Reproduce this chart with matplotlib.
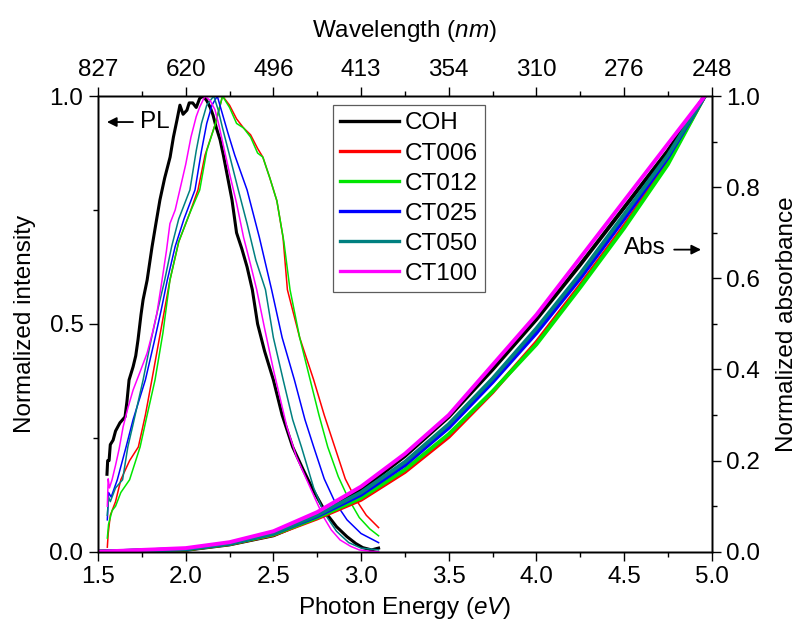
import matplotlib
matplotlib.use("Agg")
import matplotlib.pyplot as plt
from matplotlib.lines import Line2D
from matplotlib.ticker import MultipleLocator, FormatStrFormatter

plt.rcParams["font.family"] = ["Liberation Sans", "DejaVu Sans"]
plt.rcParams["mathtext.fontset"] = "custom"
plt.rcParams["mathtext.rm"] = "Liberation Sans"
plt.rcParams["mathtext.it"] = "Liberation Sans:italic"

FONT_SIZE = 17.5

SAMPLES = ["COH", "CT006", "CT012", "CT025", "CT050", "CT100"]
COLORS = {
    "COH": "#000000",
    "CT006": "#ff0000",
    "CT012": "#00e600",
    "CT025": "#0000ff",
    "CT050": "#008080",
    "CT100": "#ff00ff",
}

# photoluminescence, normalized (energy eV, intensity)
PL_E = {
    "COH": [1.551, 1.555, 1.563, 1.57, 1.586, 1.60, 1.625, 1.654, 1.665, 1.677, 1.70, 1.715,
            1.728, 1.745, 1.757, 1.78, 1.808, 1.83, 1.853, 1.88, 1.911, 1.93, 1.95, 1.967,
            1.985, 2.007, 2.02, 2.04, 2.06, 2.08, 2.10, 2.12, 2.14, 2.156, 2.175, 2.196,
            2.215, 2.235, 2.264, 2.29, 2.32, 2.35, 2.38, 2.41, 2.45, 2.50, 2.55, 2.61, 2.67,
            2.726, 2.80, 2.86, 2.92, 2.97, 3.01, 3.06, 3.10],
    "CT006": [1.553, 1.558, 1.57, 1.60, 1.63, 1.68, 1.73, 1.77, 1.807, 1.86, 1.91, 1.96,
              2.02, 2.07, 2.11, 2.17, 2.21, 2.25, 2.29, 2.33, 2.37, 2.41, 2.44, 2.48, 2.52,
              2.555, 2.58, 2.65, 2.73, 2.79, 2.85, 2.91, 2.97, 3.03, 3.10],
    "CT012": [1.553, 1.56, 1.58, 1.60, 1.63, 1.68, 1.74, 1.78, 1.825, 1.87, 1.91, 1.96,
              2.02, 2.08, 2.12, 2.17, 2.21, 2.25, 2.29, 2.33, 2.37, 2.41, 2.44, 2.48, 2.52,
              2.56, 2.595, 2.65, 2.71, 2.76, 2.81, 2.87, 2.93, 2.99, 3.05, 3.10],
    "CT025": [1.553, 1.56, 1.575, 1.61, 1.66, 1.70, 1.77, 1.82, 1.86, 1.895, 1.94, 1.99,
              2.053, 2.09, 2.12, 2.15, 2.18, 2.21, 2.24, 2.28, 2.35, 2.42, 2.49, 2.55, 2.62,
              2.68, 2.73, 2.79, 2.85, 2.92, 3.0, 3.10],
    "CT050": [1.553, 1.56, 1.57, 1.60, 1.64, 1.67, 1.70, 1.757, 1.80, 1.84, 1.88, 1.92,
              1.96, 2.0, 2.024, 2.06, 2.09, 2.12, 2.16, 2.185, 2.21, 2.25, 2.30, 2.35, 2.40,
              2.455, 2.50, 2.556, 2.61, 2.66, 2.73, 2.79, 2.86, 2.93, 3.0, 3.10],
    "CT100": [1.553, 1.558, 1.565, 1.58, 1.60, 1.62, 1.643, 1.67, 1.70, 1.74, 1.78, 1.81,
              1.836, 1.865, 1.89, 1.91, 1.94, 1.97, 2.0, 2.03, 2.06, 2.08, 2.11, 2.14, 2.167,
              2.19, 2.21, 2.25, 2.29, 2.33, 2.37, 2.405, 2.45, 2.50, 2.577, 2.63, 2.69, 2.74,
              2.785, 2.83, 2.88, 2.94, 2.99, 3.05, 3.10],
}
PL_I = {
    "COH": [0.17, 0.20, 0.20, 0.235, 0.245, 0.265, 0.283, 0.296, 0.33, 0.377, 0.406, 0.43,
            0.465, 0.52, 0.553, 0.596, 0.669, 0.72, 0.772, 0.82, 0.866, 0.91, 0.947, 0.98,
            0.96, 0.969, 0.985, 0.985, 0.975, 0.995, 1.0, 0.99, 0.975, 0.958, 0.93, 0.904,
            0.87, 0.83, 0.772, 0.70, 0.665, 0.625, 0.575, 0.50, 0.44, 0.377, 0.30, 0.23, 0.18,
            0.136, 0.085, 0.055, 0.033, 0.018, 0.009, 0.004, 0.008],
    "CT006": [0.01, 0.04, 0.08, 0.11, 0.158, 0.20, 0.23, 0.30, 0.377, 0.49, 0.596, 0.68,
              0.74, 0.794, 0.87, 0.94, 1.0, 0.98, 0.95, 0.93, 0.915, 0.885, 0.866, 0.82, 0.77,
              0.69, 0.575, 0.47, 0.377, 0.30, 0.23, 0.16, 0.115, 0.08, 0.053],
    "CT012": [0.03, 0.06, 0.09, 0.10, 0.13, 0.158, 0.23, 0.30, 0.377, 0.48, 0.596, 0.68,
              0.74, 0.794, 0.88, 0.94, 1.0, 0.975, 0.94, 0.93, 0.91, 0.875, 0.866, 0.82, 0.77,
              0.68, 0.575, 0.47, 0.377, 0.30, 0.23, 0.165, 0.115, 0.075, 0.05, 0.035],
    "CT025": [0.07, 0.13, 0.12, 0.158, 0.23, 0.29, 0.377, 0.46, 0.53, 0.596, 0.67, 0.73,
              0.794, 0.88, 0.94, 0.98, 1.0, 0.96, 0.92, 0.87, 0.794, 0.69, 0.575, 0.47, 0.377,
              0.29, 0.23, 0.16, 0.11, 0.07, 0.04, 0.02],
    "CT050": [0.08, 0.12, 0.11, 0.14, 0.158, 0.23, 0.28, 0.377, 0.46, 0.53, 0.596, 0.67,
              0.73, 0.77, 0.794, 0.88, 0.94, 0.98, 1.0, 0.97, 0.93, 0.87, 0.794, 0.72, 0.64,
              0.575, 0.47, 0.377, 0.29, 0.23, 0.14, 0.085, 0.045, 0.02, 0.008, 0.004],
    "CT100": [0.10, 0.16, 0.14, 0.158, 0.19, 0.225, 0.274, 0.315, 0.355, 0.395, 0.436, 0.48,
              0.524, 0.596, 0.66, 0.72, 0.75, 0.80, 0.85, 0.91, 0.955, 0.976, 1.0, 0.99, 0.97,
              0.935, 0.90, 0.83, 0.765, 0.69, 0.63, 0.575, 0.49, 0.40, 0.274, 0.21, 0.158,
              0.115, 0.077, 0.048, 0.026, 0.012, 0.004, 0.001, 0.0],
}

# absorbance, normalized
ABS_E = [1.5, 2.0, 2.25, 2.5, 2.75, 3.0, 3.25, 3.5, 3.75, 4.0, 4.25, 4.5, 4.75, 4.96]
ABS_A = {
    "COH": [0.0, 0.004, 0.016, 0.036, 0.076, 0.136, 0.21, 0.296, 0.40, 0.51, 0.63, 0.755, 0.88, 1.0],
    "CT006": [0.0, 0.005, 0.017, 0.037, 0.073, 0.114, 0.175, 0.252, 0.35, 0.46, 0.585, 0.715, 0.855, 1.0],
    "CT012": [0.0, 0.005, 0.017, 0.038, 0.075, 0.118, 0.18, 0.258, 0.352, 0.455, 0.58, 0.71, 0.85, 1.0],
    "CT025": [0.0, 0.006, 0.018, 0.04, 0.078, 0.125, 0.19, 0.272, 0.372, 0.48, 0.60, 0.73, 0.865, 1.0],
    "CT050": [0.0, 0.006, 0.018, 0.04, 0.08, 0.13, 0.197, 0.28, 0.38, 0.49, 0.61, 0.74, 0.87, 1.0],
    "CT100": [0.0, 0.008, 0.021, 0.045, 0.087, 0.143, 0.215, 0.30, 0.41, 0.52, 0.645, 0.77, 0.895, 1.0],
}

ENERGY_TICKS = [1.5, 2.0, 2.5, 3.0, 3.5, 4.0, 4.5, 5.0]
WAVELENGTH_LABELS = ["827", "620", "496", "413", "354", "310", "276", "248"]


def style_ticks(axis):
    axis.tick_params(which="major", direction="out", length=6.5, width=1.0,
                     labelsize=FONT_SIZE, pad=4)
    axis.tick_params(which="minor", direction="out", length=3.5, width=1.0)


fig = plt.figure(figsize=(7.97, 6.32), dpi=100)
ax = fig.add_axes([0.123, 0.127, 0.770, 0.721])
ax_abs = ax.twinx()
ax_top = ax.twiny()

for name in SAMPLES:
    lw = 2.2 if name == "COH" else 1.1
    ax.plot(PL_E[name], PL_I[name], color=COLORS[name], lw=lw, zorder=3)

for name in SAMPLES:
    ax_abs.plot(ABS_E, ABS_A[name], color=COLORS[name], lw=2.8, solid_capstyle="butt")

ax.set_xlim(1.5, 5.0)
ax.set_ylim(0.0, 1.0)
ax_abs.set_ylim(0.0, 1.0)
ax_top.set_xlim(1.5, 5.0)

ax.xaxis.set_major_locator(MultipleLocator(0.5))
ax.xaxis.set_minor_locator(MultipleLocator(0.25))
ax.yaxis.set_major_locator(MultipleLocator(0.5))
ax.yaxis.set_minor_locator(MultipleLocator(0.25))
ax.xaxis.set_major_formatter(FormatStrFormatter("%.1f"))
ax.yaxis.set_major_formatter(FormatStrFormatter("%.1f"))
ax_abs.yaxis.set_major_locator(MultipleLocator(0.2))
ax_abs.yaxis.set_minor_locator(MultipleLocator(0.1))
ax_abs.yaxis.set_major_formatter(FormatStrFormatter("%.1f"))
ax_top.set_xticks(ENERGY_TICKS)
ax_top.set_xticklabels(WAVELENGTH_LABELS)
ax_top.xaxis.set_minor_locator(MultipleLocator(0.25))

for a in (ax, ax_abs, ax_top):
    style_ticks(a)
    for sp in a.spines.values():
        sp.set_linewidth(1.0)

ax.set_xlabel("Photon Energy ($\\mathit{eV}$)", fontsize=FONT_SIZE, labelpad=5)
ax.set_ylabel("Normalized intensity", fontsize=FONT_SIZE, labelpad=10)
ax_abs.set_ylabel("Normalized absorbance", fontsize=FONT_SIZE, labelpad=11)
ax_top.set_xlabel("Wavelength ($\\mathit{nm}$)", fontsize=FONT_SIZE, labelpad=16)

# arrows marking which axis each set belongs to
ax.annotate("", xy=(1.535, 0.943), xytext=(1.715, 0.943),
            arrowprops=dict(arrowstyle="-|>", color="black", lw=1.3, mutation_scale=14))
ax.text(1.74, 0.943, "PL", fontsize=FONT_SIZE, va="center", ha="left")
ax_abs.text(4.50, 0.667, "Abs", fontsize=FONT_SIZE, va="center", ha="left")
ax_abs.annotate("", xy=(4.955, 0.663), xytext=(4.77, 0.663),
                arrowprops=dict(arrowstyle="-|>", color="black", lw=1.3, mutation_scale=14))

handles = [Line2D([0], [0], color=COLORS[n], lw=2.4) for n in SAMPLES]
leg = ax_top.legend(handles, SAMPLES, loc="upper left", bbox_to_anchor=(0.383, 0.98),
                    bbox_transform=ax.transAxes, fontsize=FONT_SIZE, frameon=True,
                    fancybox=False, handlelength=2.4, handletextpad=0.25,
                    labelspacing=0.33, borderpad=0.3, borderaxespad=0.0)
leg.get_frame().set_edgecolor("#333333")
leg.get_frame().set_linewidth(0.9)

fig.savefig("out.png", dpi=100, facecolor="white")
